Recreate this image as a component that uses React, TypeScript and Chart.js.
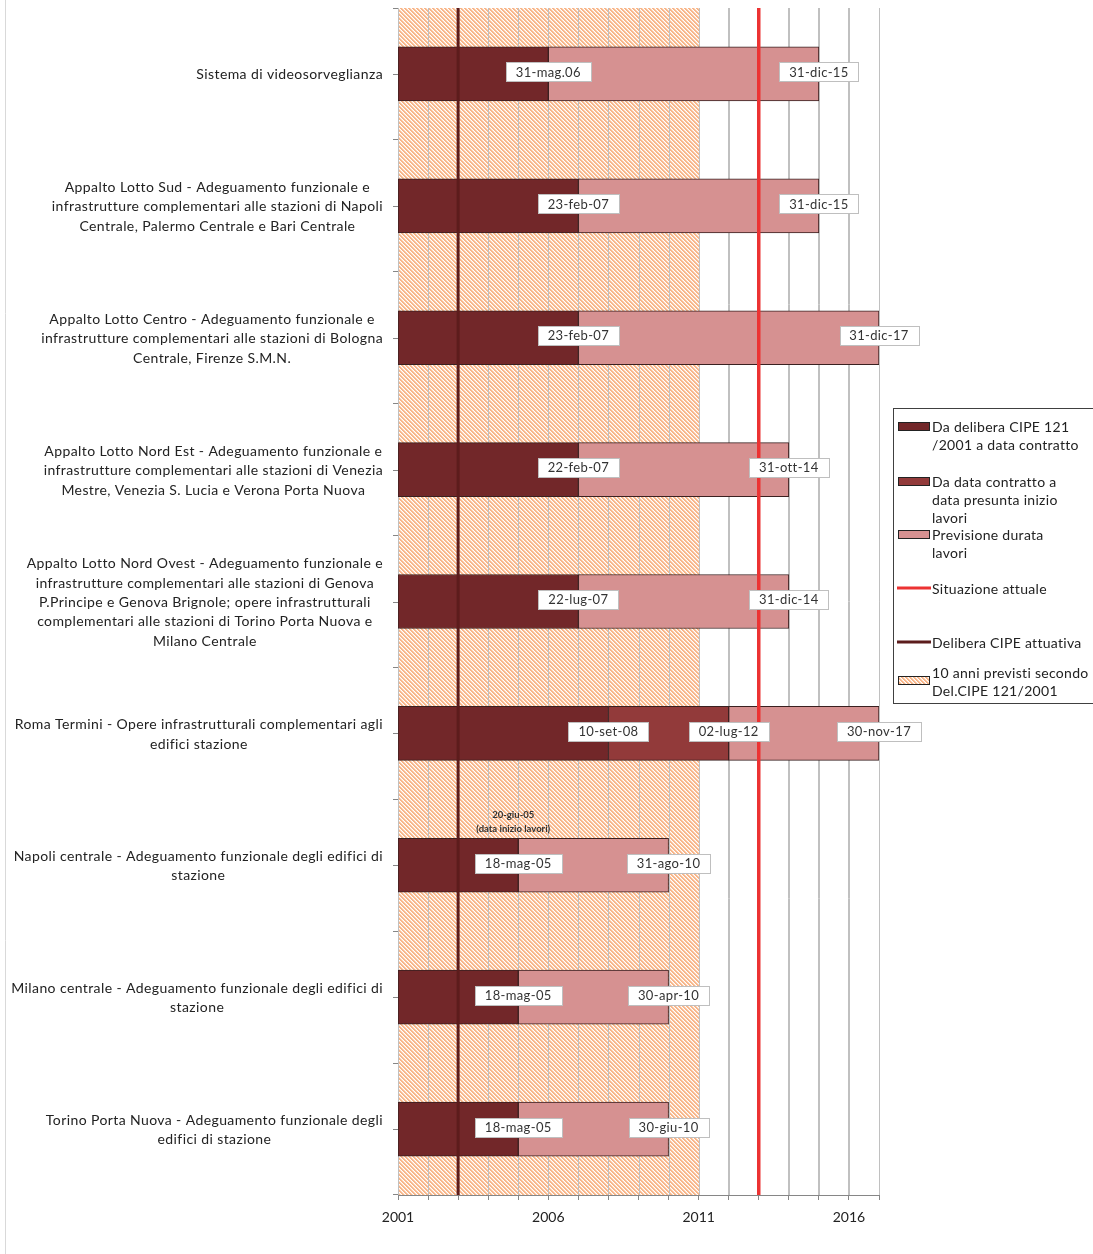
import React, { useEffect, useRef } from 'react';
import { Chart, registerables } from 'chart.js';

Chart.register(...registerables);

// ---------- DATA ----------
const categories: string[][] = [
  ['Sistema di videosorveglianza'],
  ['Appalto Lotto Sud - Adeguamento funzionale e', 'infrastrutture complementari alle stazioni di Napoli', 'Centrale, Palermo Centrale e Bari Centrale'],
  ['Appalto Lotto Centro - Adeguamento funzionale e', 'infrastrutture complementari alle stazioni di Bologna', 'Centrale, Firenze S.M.N.'],
  ['Appalto Lotto Nord Est - Adeguamento funzionale e', 'infrastrutture complementari alle stazioni di Venezia', 'Mestre, Venezia S. Lucia e Verona Porta Nuova'],
  ['Appalto Lotto Nord Ovest - Adeguamento funzionale e', 'infrastrutture complementari alle stazioni di Genova', 'P.Principe e Genova Brignole; opere infrastrutturali', 'complementari alle stazioni di Torino Porta Nuova e', 'Milano Centrale'],
  ['Roma Termini - Opere infrastrutturali complementari agli', 'edifici stazione'],
  ['Napoli centrale - Adeguamento funzionale degli edifici di', 'stazione'],
  ['Milano centrale - Adeguamento funzionale degli edifici di', 'stazione'],
  ['Torino Porta Nuova - Adeguamento funzionale degli', 'edifici di stazione'],
];

const deliberaStart = 2001;
const contractEnd = [2006, 2007, 2007, 2007, 2007, 2008, 2005, 2005, 2005];
const presumedStart: (number | null)[] = [null, null, null, null, null, 2012, null, null, null];
const worksEnd = [2015, 2015, 2017, 2014, 2014, 2017, 2010, 2010, 2010];

const contractLabels = ['31-mag.06', '23-feb-07', '23-feb-07', '22-feb-07', '22-lug-07', '10-set-08', '18-mag-05', '18-mag-05', '18-mag-05'];
const presumedLabels: (string | null)[] = [null, null, null, null, null, '02-lug-12', null, null, null];
const endLabels = ['31-dic-15', '31-dic-15', '31-dic-17', '31-ott-14', '31-dic-14', '30-nov-17', '31-ago-10', '30-apr-10', '30-giu-10'];

const tenYearWindow: [number, number] = [2001, 2011];
const currentSituation = 2013;
const cipeAttuativa = 2003;

const xMin = 2001;
const xMax = 2017;
const xTickLabels = [2001, 2006, 2011, 2016];

const noteRow = 6;
const noteValue = 2005;
const noteLines = ['20-giu-05', '(data inizio lavori)'];

const seriesNames = [
  'Da delibera CIPE 121 /2001 a data contratto',
  'Da data contratto a data presunta inizio lavori',
  'Previsione durata lavori',
  'Situazione attuale',
  'Delibera CIPE attuativa',
  '10 anni previsti secondo Del.CIPE 121/2001',
];

// ---------- STYLE ----------
const FONT = 'Lato';
const C_DARK = '#722729';
const C_MID = '#923a3a';
const C_PINK = '#d69191';
const C_RED = '#ec3232';
const C_CIPE = '#5c1c1c';
const C_GRID = '#c0c0c0';
const C_AXIS = '#868686';
const C_TEXT = '#222222';
const C_BORDER = '#3a2020';

function makeHatch(): CanvasPattern | string {
  const n = 4;
  const c = document.createElement('canvas');
  c.width = n;
  c.height = n;
  const g = c.getContext('2d');
  if (!g) return '#fbc09a';
  const img = g.createImageData(n, n);
  const cols = [
    [248, 182, 138],
    [248, 182, 138],
    [252, 222, 200],
    [255, 255, 255],
  ];
  for (let y = 0; y < n; y++) {
    for (let x = 0; x < n; x++) {
      const k = (y * n + x) * 4;
      const col = cols[(x - y + 2 * n) % n];
      img.data[k] = col[0];
      img.data[k + 1] = col[1];
      img.data[k + 2] = col[2];
      img.data[k + 3] = 255;
    }
  }
  g.putImageData(img, 0, 0);
  const p = g.createPattern(c, 'repeat');
  return p || '#fbc09a';
}

function setSpacing(ctx: any, v: string) {
  try {
    ctx.letterSpacing = v;
  } catch (e) {
    /* ignore */
  }
}

export default function App() {
  const ref = useRef<HTMLCanvasElement | null>(null);

  useEffect(() => {
    if (!ref.current) return;
    const hatch = makeHatch();

    const overlay = {
      id: 'overlay',
      afterDatasetDraw(chart: any, args: any) {
        if (args.index !== 3) return;
        const { ctx, chartArea } = chart;
        const xs = chart.scales.x;
        ctx.save();
        ctx.strokeStyle = C_GRID;
        ctx.lineWidth = 1;
        for (let v = xMin; v <= xMax; v++) {
          const px = Math.round(xs.getPixelForValue(v)) + 0.5;
          ctx.beginPath();
          ctx.moveTo(px, chartArea.top);
          ctx.lineTo(px, chartArea.bottom);
          ctx.stroke();
        }
        ctx.restore();
      },
      afterDatasetsDraw(chart: any) {
        const { ctx, chartArea } = chart;
        const xs = chart.scales.x;
        const ys = chart.scales.y;
        ctx.save();
        const vline = (v: number, color: string, w: number) => {
          const px = xs.getPixelForValue(v);
          ctx.strokeStyle = color;
          ctx.lineWidth = w;
          ctx.beginPath();
          ctx.moveTo(px, chartArea.top);
          ctx.lineTo(px, chartArea.bottom);
          ctx.stroke();
        };
        vline(cipeAttuativa, C_CIPE, 3);
        vline(currentSituation, C_RED, 3.5);

        // data labels
        ctx.font = `13px ${FONT}`;
        setSpacing(ctx, '0.35px');
        ctx.textAlign = 'center';
        ctx.textBaseline = 'middle';
        const box = (text: string, v: number, yc: number) => {
          const px = xs.getPixelForValue(v);
          const w = Math.round(ctx.measureText(text).width + 20);
          const h = 19;
          const x0 = Math.round(px - w / 2) + 0.5;
          const y0 = Math.round(yc - h / 2) + 0.5;
          ctx.fillStyle = '#ffffff';
          ctx.fillRect(x0, y0, w, h);
          ctx.strokeStyle = '#bfbfbf';
          ctx.lineWidth = 1;
          ctx.strokeRect(x0, y0, w, h);
          ctx.fillStyle = '#333333';
          ctx.fillText(text, px, yc + 0.5);
        };
        categories.forEach((_, i) => {
          const yc = ys.getPixelForValue(i) - 2;
          box(contractLabels[i], contractEnd[i], yc);
          const ps = presumedStart[i];
          const pl = presumedLabels[i];
          if (ps != null && pl) box(pl, ps, yc);
          box(endLabels[i], worksEnd[i], yc);
        });

        // note
        setSpacing(ctx, '0px');
        ctx.font = `bold 9.5px ${FONT}`;
        ctx.fillStyle = '#333333';
        const nx = xs.getPixelForValue(noteValue) - 5;
        const nyTop = ys.getPixelForValue(noteRow) - 27;
        ctx.fillText(noteLines[0], nx, nyTop - 23);
        ctx.fillText(noteLines[1], nx, nyTop - 9.5);
        ctx.restore();
      },
      afterDraw(chart: any) {
        const { ctx, chartArea } = chart;
        const ys = chart.scales.y;
        ctx.save();
        ctx.strokeStyle = C_AXIS;
        ctx.lineWidth = 1;
        categories.forEach((_, i) => {
          const py = Math.round(ys.getPixelForValue(i)) + 0.5;
          ctx.beginPath();
          ctx.moveTo(chartArea.left - 5, py);
          ctx.lineTo(chartArea.left, py);
          ctx.stroke();
        });
        // category labels (centered block, right-aligned)
        ctx.font = `14px ${FONT}`;
        setSpacing(ctx, '0.4px');
        ctx.fillStyle = C_TEXT;
        ctx.textAlign = 'center';
        ctx.textBaseline = 'middle';
        const right = chartArea.left - 15;
        const lh = 19.4;
        categories.forEach((lines, i) => {
          const yc = ys.getPixelForValue(i) + 1;
          const maxW = Math.max(...lines.map((l) => ctx.measureText(l).width));
          const cx = right - maxW / 2;
          lines.forEach((l, j) => {
            ctx.fillText(l, cx, yc + (j - (lines.length - 1) / 2) * lh);
          });
        });

        // left frame line
        ctx.strokeStyle = '#d9d9d9';
        ctx.beginPath();
        ctx.moveTo(5.5, 0);
        ctx.lineTo(5.5, chart.height);
        ctx.stroke();

        // legend
        const lx = 893.5;
        const ly = 408.5;
        ctx.strokeStyle = '#404040';
        ctx.lineWidth = 1;
        ctx.strokeRect(lx, ly, 230, 295);
        ctx.textAlign = 'left';
        ctx.font = `14px ${FONT}`;
        setSpacing(ctx, '0.3px');
        const tx = 932;
        const swatch = (y: number, fill: any) => {
          ctx.fillStyle = fill;
          ctx.fillRect(898.5, y + 0.5, 31, 8);
          ctx.strokeStyle = '#222222';
          ctx.strokeRect(898.5, y + 0.5, 31, 8);
        };
        const lineSw = (y: number, color: string) => {
          ctx.strokeStyle = color;
          ctx.lineWidth = 3;
          ctx.beginPath();
          ctx.moveTo(897, y);
          ctx.lineTo(931, y);
          ctx.stroke();
          ctx.lineWidth = 1;
        };
        const text = (lines: string[], y: number) => {
          ctx.fillStyle = C_TEXT;
          lines.forEach((l, j) => ctx.fillText(l, tx, y + 1 + j * 18));
        };
        swatch(422, C_DARK);
        text(['Da delibera CIPE 121', '/2001 a data contratto'], 426);
        swatch(477, C_MID);
        text(['Da data contratto a', 'data presunta inizio', 'lavori'], 481);
        swatch(530, C_PINK);
        text(['Previsione durata', 'lavori'], 534);
        lineSw(588, C_RED);
        text(['Situazione attuale'], 588);
        lineSw(642, C_CIPE);
        text(['Delibera CIPE attuativa'], 642);
        swatch(676, hatch);
        text(['10 anni previsti secondo', 'Del.CIPE 121/2001'], 672);
        ctx.restore();
      },
    };

    const barCommon = {
      barThickness: 54,
      grouped: false,
      borderWidth: 1,
      borderColor: C_BORDER,
      borderSkipped: false,
    };

    const chart = new Chart(ref.current, {
      type: 'bar',
      data: {
        labels: categories,
        datasets: [
          {
            ...barCommon,
            label: seriesNames[0],
            data: contractEnd.map((e) => [deliberaStart, e]),
            backgroundColor: C_DARK,
            order: 1,
          },
          {
            ...barCommon,
            label: seriesNames[1],
            data: presumedStart.map((s, i) => (s == null ? null : [contractEnd[i], s])),
            backgroundColor: C_MID,
            order: 1,
          },
          {
            ...barCommon,
            label: seriesNames[2],
            data: worksEnd.map((e, i) => [presumedStart[i] ?? contractEnd[i], e]),
            backgroundColor: C_PINK,
            order: 1,
          },
          {
            label: seriesNames[5],
            data: categories.map(() => tenYearWindow),
            backgroundColor: hatch as any,
            borderWidth: 0,
            barPercentage: 1,
            categoryPercentage: 1,
            grouped: false,
            order: 10,
          },
        ] as any,
      },
      options: {
        indexAxis: 'y',
        animation: false,
        responsive: false,
        maintainAspectRatio: false,
        layout: { padding: { top: 8, right: 214, left: 0, bottom: 0 } },
        plugins: {
          legend: { display: false },
          tooltip: { enabled: false },
        },
        scales: {
          x: {
            type: 'linear',
            min: xMin,
            max: xMax,
            afterFit(scale: any) {
              scale.height = 59;
            },
            ticks: {
              stepSize: 1,
              autoSkip: false,
              maxRotation: 0,
              padding: 9,
              color: C_TEXT,
              font: { family: FONT, size: 14 },
              callback: (v: any) => (xTickLabels.includes(Number(v)) ? String(v) : ''),
            },
            grid: {
              color: C_GRID,
              tickColor: C_AXIS,
              tickLength: 5,
              drawTicks: true,
            },
            border: { color: C_AXIS },
          },
          y: {
            type: 'category',
            afterFit(scale: any) {
              scale.width = 398;
            },
            ticks: { display: false },
            grid: {
              offset: true,
              drawOnChartArea: false,
              drawTicks: true,
              tickLength: 5,
              tickColor: C_AXIS,
            },
            border: { color: C_AXIS },
          },
        },
      } as any,
      plugins: [overlay],
    });

    return () => chart.destroy();
  }, []);

  return (
    <div style={{ position: 'absolute', left: 0, top: 0, width: 1093, height: 1254, background: '#ffffff' }}>
      <canvas ref={ref} width={1093} height={1254} style={{ display: 'block', width: 1093, height: 1254 }} />
    </div>
  );
}
